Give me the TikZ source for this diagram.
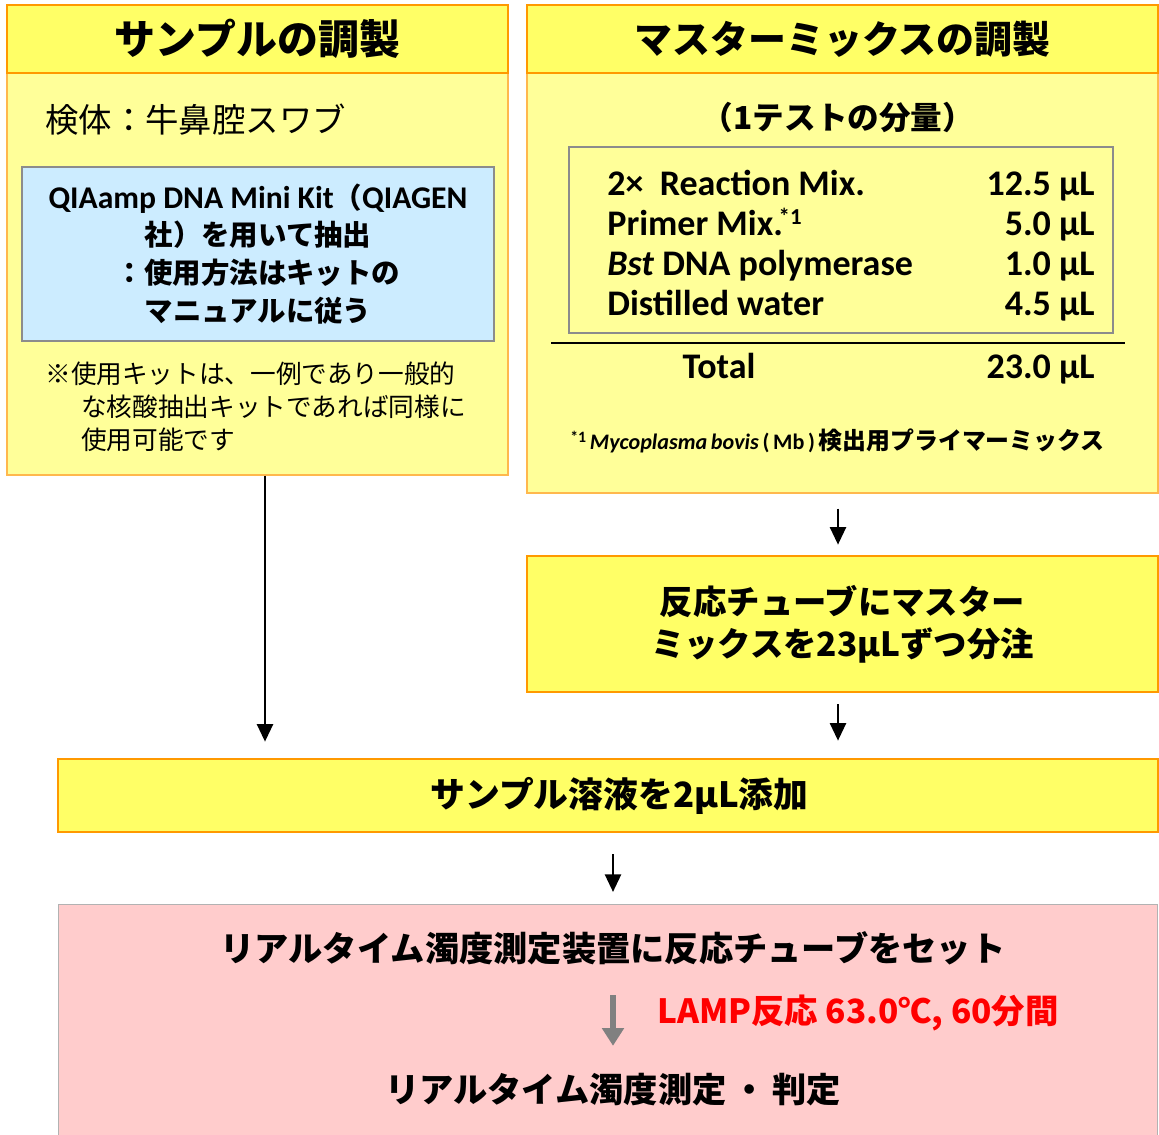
\documentclass[tikz,border=0pt]{standalone}
\usepackage{fontspec}
\setmainfont{Carlito}
\newfontfamily\jp{Noto Sans CJK JP}
\usetikzlibrary{arrows.meta,positioning}

\definecolor{headyellow}{HTML}{FFFF66}
\definecolor{paleyellow}{HTML}{FFFF99}
\definecolor{orangeline}{HTML}{FF9900}
\definecolor{panelline}{HTML}{FFB84D}
\definecolor{kitblue}{HTML}{CCECFF}
\definecolor{boxgray}{HTML}{8C8C8C}
\definecolor{pinkfill}{HTML}{FFCCCC}

\tikzset{
  head/.style={draw=orangeline, line width=1.5pt, fill=headyellow,
    inner sep=0pt, minimum height=1.36cm},
  panel/.style={draw=panelline, line width=0.7pt, fill=paleyellow, inner sep=0pt},
  stepbox/.style={draw=orangeline, line width=1.5pt, fill=headyellow,
    inner sep=0pt, align=center,
    font=\jp\bfseries\fontsize{19pt}{24pt}\selectfont},
  flow/.style={-{Triangle[width=9pt,length=10pt]}, line width=1.6pt},
  tab/.style={font=\bfseries\fontsize{20.5pt}{24pt}\selectfont, inner sep=0pt},
  bigjp/.style={inner sep=0pt, font=\jp\bfseries\fontsize{19.5pt}{23pt}\selectfont},
}
\newcommand{\kitlat}[1]{{\rmfamily\bfseries\fontsize{18pt}{21.5pt}\selectfont #1}}

\begin{document}
\begin{tikzpicture}[x=0.02cm,y=-0.02cm]
  \useasboundingbox (0,0) rectangle (1159,1134);

  % sample side
  \node (lbody) [panel, minimum width=10.02cm, minimum height=8.04cm] at (257.5,274) {};
  \node (lhead) [head, minimum width=10.02cm,
    font=\jp\bfseries\fontsize{23.3pt}{27pt}\selectfont] at (257.5,39) {サンプルの調製};
  \node (spec) [anchor=west, inner sep=0pt, font=\jp\fontsize{19pt}{23pt}\selectfont]
    at (45,120) {検体：牛鼻腔スワブ};
  \node (kit) [draw=boxgray, line width=1pt, fill=kitblue, align=center,
    minimum width=9.44cm, minimum height=3.48cm, inner sep=0pt,
    font=\jp\bfseries\fontsize{16.2pt}{21.5pt}\selectfont] at (258,254)
    {\kitlat{QIAamp DNA Mini Kit}（\kitlat{QIAGEN}\\社）を用いて抽出\\：使用方法はキットの\\マニュアルに従う};
  \node (note) [anchor=north west, inner sep=0pt, align=left,
    font=\jp\fontsize{14.6pt}{19pt}\selectfont] at (45,361)
    {※使用キットは、一例であり一般的\\\hspace{1.4em}な核酸抽出キットであれば同様に\\\hspace{1.4em}使用可能です};

  % master mix side
  \node (rbody) [panel, minimum width=12.62cm, minimum height=8.4cm] at (842.5,283) {};
  \node (rhead) [head, minimum width=12.62cm,
    font=\jp\bfseries\fontsize{21.6pt}{26pt}\selectfont] at (842.5,39) {マスターミックスの調製};
  \node (dose) [inner sep=0pt, font=\jp\bfseries\fontsize{18pt}{22pt}\selectfont]
    at (838,117) {（1テストの分量）};
  \node (mix) [draw=boxgray, line width=1pt, minimum width=10.88cm,
    minimum height=3.72cm, inner sep=0pt] at (841,240) {};
  \node (rm)   [tab, anchor=base west] at (607,195) {2×\ \ Reaction Mix.};
  \node (pm)   [tab, anchor=base west] at (607,235)
    {Primer Mix.\kern-0.12em\raisebox{0.3em}{\fontsize{13pt}{13pt}\selectfont *1}};
  \node (bst)  [tab, anchor=base west] at (607,275) {\textit{Bst} DNA polymerase};
  \node (dw)   [tab, anchor=base west] at (607,315) {Distilled water};
  \node (rmv)  [tab, anchor=base east] at (1095,195) {12.5 µL};
  \node (pmv)  [tab, anchor=base east] at (1095,235) {5.0 µL};
  \node (bstv) [tab, anchor=base east] at (1095,275) {1.0 µL};
  \node (dwv)  [tab, anchor=base east] at (1095,315) {4.5 µL};
  \draw[line width=1.2pt] (551,343) -- (1125,343);
  \node (tot)  [tab, anchor=base] at (719,378) {Total};
  \node (totv) [tab, anchor=base east] at (1095,378) {23.0 µL};
  \node (foot) [anchor=base west, inner sep=0pt,
    font=\bfseries\fontsize{12.6pt}{16pt}\selectfont] at (570,449)
    {\raisebox{0.3em}{\fontsize{9pt}{9pt}\selectfont *1}\,\textit{Mycoplasma\,bovis}\,(\,Mb\,)\,{\jp\fontsize{13.6pt}{16pt}\selectfont 検出用プライマーミックス}};

  % steps
  \node (disp) [stepbox, minimum width=12.62cm, minimum height=2.72cm] at (842.5,624)
    {反応チューブにマスター\\ミックスを23µLずつ分注};
  \node (add) [stepbox, minimum width=22cm, minimum height=1.46cm,
    font=\jp\bfseries\fontsize{19.8pt}{24pt}\selectfont] at (608,795.5)
    {\hspace*{0.46cm}サンプル溶液を2µL添加};
  \node (meas) [draw=gray!60, line width=0.6pt, fill=pinkfill, inner sep=0pt,
    minimum width=22cm, minimum height=4.7cm] at (608,1022) {};
  \node (set) [bigjp] at (613,948) {リアルタイム濁度測定装置に反応チューブをセット};
  \node (judge) [bigjp] at (613,1090) {リアルタイム濁度測定\,・\,判定};
  \node (lamp) [anchor=west, inner sep=0pt, text=red,
    font=\jp\bfseries\fontsize{19pt}{22pt}\selectfont] at (657,1013)
    {LAMP反応 63.0℃, 60分間};

  % arrows
  \coordinate (lx) at (265,0);
  \coordinate (rx) at (838,0);
  \coordinate (mx) at (613,0);
  \draw[flow, shorten <=0pt, shorten >=0.32cm] (lbody.south -| lx) -- (add.north -| lx);
  \draw[flow, shorten <=0.3cm, shorten >=0.2cm] (rbody.south -| rx) -- (disp.north -| rx);
  \draw[flow, shorten <=0.22cm, shorten >=0.34cm] (disp.south -| rx) -- (add.north -| rx);
  \draw[flow, shorten <=0.42cm, shorten >=0.24cm] (add.south -| mx) -- (meas.north -| mx);
  \draw[-{Triangle[width=12pt,length=10pt]}, line width=3.2pt, gray,
    shorten <=0.6cm, shorten >=0.55cm] (set.south -| mx) -- (judge.north -| mx);
\end{tikzpicture}
\end{document}
